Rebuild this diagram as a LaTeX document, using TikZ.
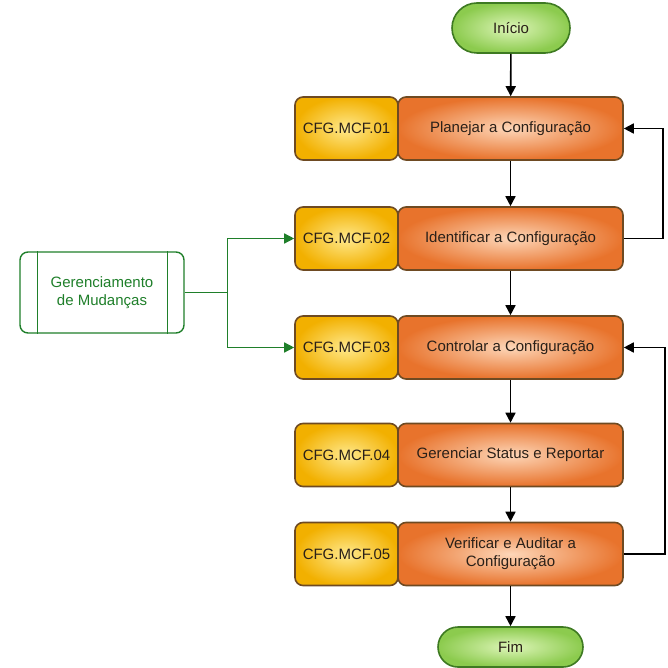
\documentclass[tikz,border=0pt]{standalone}
\usepackage{fontspec}
\setmainfont{Liberation Sans}
\usetikzlibrary{arrows.meta,shapes.misc,calc}

\definecolor{yelin}{HTML}{FFE98C}
\definecolor{yelout}{HTML}{F2B000}
\definecolor{orgin}{HTML}{FDD6B8}
\definecolor{orgout}{HTML}{E8732C}
\definecolor{grnin}{HTML}{DDF5B8}
\definecolor{grnout}{HTML}{8CCB4E}
\definecolor{boxedge}{HTML}{6E4A22}
\definecolor{grnedge}{HTML}{3E7A22}
\definecolor{flowgreen}{HTML}{1F7F2A}
\definecolor{txt}{HTML}{2A2018}

\tikzset{
  basefont/.style={font=\fontsize{15}{18}\selectfont},
  codebox/.style={basefont, rectangle, rounded corners=8pt, draw=boxedge, line width=1.6pt,
    shade, shading=radial, inner color=yelin, outer color=yelout,
    minimum width=103pt, minimum height=63pt, inner sep=0pt, text=txt},
  taskbox/.style={codebox, inner color=orgin, outer color=orgout,
    minimum width=225pt, align=center},
  terminal/.style={basefont, rounded rectangle, draw=grnedge, line width=1.6pt,
    shade, shading=radial, inner color=grnin, outer color=grnout,
    inner sep=0pt, text=txt},
  extproc/.style={basefont, rectangle, rounded corners=8pt, draw=flowgreen, line width=1.4pt,
    fill=white, minimum width=164pt, minimum height=81pt, align=center, text=flowgreen},
  arr/.style={line width=1.6pt, draw=black, -{Triangle[length=10pt,width=10pt]}},
  garr/.style={line width=1.4pt, draw=flowgreen, -{Triangle[length=10pt,width=10pt]}},
}

\begin{document}
\begin{tikzpicture}[x=1pt,y=-1pt]
\useasboundingbox (0,0) rectangle (667,668);

% start / end terminals
\node[terminal, minimum width=118pt, minimum height=50pt] (ini) at (511,28) {Início};
\node[terminal, minimum width=145pt, minimum height=40pt] (fim) at (510.5,647) {Fim};

% process rows: code box + activity box
\node[codebox] (c1) at (346.5,128.5) {CFG.MCF.01};
\node[taskbox] (t1) at (510.5,128.5) {Planejar a Configuração};

\node[codebox] (c2) at (346.5,238.5) {CFG.MCF.02};
\node[taskbox] (t2) at (510.5,238.5) {Identificar a Configuração};

\node[codebox] (c3) at (346.5,347.5) {CFG.MCF.03};
\node[taskbox] (t3) at (510.5,347.5) {Controlar a Configuração};

\node[codebox] (c4) at (346.5,455) {CFG.MCF.04};
\node[taskbox] (t4) at (510.5,455) {Gerenciar Status e Reportar};

\node[codebox] (c5) at (346.5,554) {CFG.MCF.05};
\node[taskbox] (t5) at (510.5,554) {Verificar e Auditar a\\Configuração};

% external (predefined) process
\node[extproc] (gm) at (102,292.5) {Gerenciamento\\de Mudanças};
\draw[flowgreen, line width=1.4pt]
  ($(gm.north west)+(18,0)$) -- ($(gm.south west)+(18,0)$)
  ($(gm.north east)+(-17,0)$) -- ($(gm.south east)+(-17,0)$);

% main flow
\draw[arr] (ini) -- (t1);
\draw[arr] (t1) -- (t2);
\draw[arr] (t2) -- (t3);
\draw[arr] (t3) -- (t4);
\draw[arr] (t4) -- (t5);
\draw[arr] (t5) -- (fim);

% feedback loops
\draw[arr] (t2.east) -- ++(39,0) |- (t1.east);
\draw[arr] (t5.east) -- ++(41,0) |- (t3.east);

% change management inputs
\draw[line width=1.4pt, flowgreen] (gm.east) -- ++(43,0) coordinate (gb);
\draw[garr] (gb) |- (c2.west);
\draw[garr] (gb) |- (c3.west);
\end{tikzpicture}
\end{document}
